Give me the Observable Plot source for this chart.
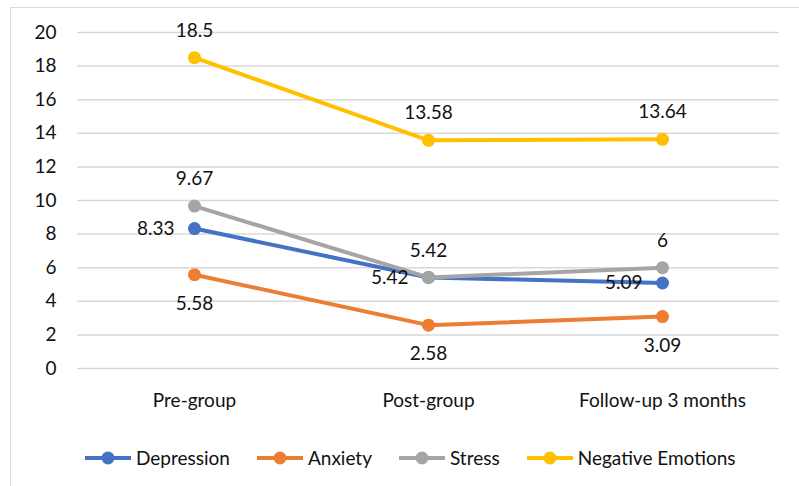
<!DOCTYPE html>
<html>
<head>
<meta charset="utf-8">
<script src="https://cdn.jsdelivr.net/npm/d3@7"></script>
<script src="https://cdn.jsdelivr.net/npm/@observablehq/plot@0.6"></script>
<style>
  html, body { margin: 0; padding: 0; background: #fff; width: 799px; height: 486px; overflow: hidden; }
  #frame { position: absolute; left: 10px; top: 7px; width: 820px; height: 520px; border: 1px solid #d9d9d9; box-sizing: border-box; }
  #chart { position: absolute; left: 0; top: 0; }
  #legend { position: absolute; left: 84px; top: 446px; display: flex; align-items: center; font-family: Lato, sans-serif; font-size: 19px; color: #111; }
  .item { display: flex; align-items: center; margin-right: 26px; }
  .item svg { margin-right: 4px; }
</style>
</head>
<body>
<div id="frame"></div>
<div id="chart"></div>
<div id="legend"></div>
<script>
const categories = ["Pre-group", "Post-group", "Follow-up 3 months"];
const seriesNames = ["Depression", "Anxiety", "Stress", "Negative Emotions"];
const depression = [8.33, 5.42, 5.09];
const anxiety = [5.58, 2.58, 3.09];
const stress = [9.67, 5.42, 6];
const negativeEmotions = [18.5, 13.58, 13.64];
const colors = ["#4472C4", "#ED7D31", "#A5A5A5", "#FFC000"];
const yTicks = [0, 2, 4, 6, 8, 10, 12, 14, 16, 18, 20];

const seriesValues = [depression, anxiety, stress, negativeEmotions];
const rows = [];
seriesNames.forEach((s, si) => {
  categories.forEach((c, ci) => rows.push({series: s, category: c, value: seriesValues[si][ci]}));
});
const above = rows.filter(d => d.series === "Stress" || d.series === "Negative Emotions");
const left = rows.filter(d => d.series === "Depression");
const below = rows.filter(d => d.series === "Anxiety");

const font = "Lato, sans-serif";
const fs = 19;
const chart = Plot.plot({
  width: 799,
  height: 420,
  marginTop: 32,
  marginBottom: 52,
  marginLeft: 77,
  marginRight: 20,
  style: {fontFamily: font, fontSize: fs + "px", color: "#111", background: "transparent"},
  x: {type: "point", domain: categories, padding: 0.5, label: null},
  y: {domain: [0, 20], label: null},
  color: {domain: seriesNames, range: colors},
  marks: [
    Plot.gridY(yTicks, {stroke: "#d9d9d9", strokeOpacity: 1, strokeWidth: 1.5}),
    Plot.axisY(yTicks, {tickSize: 0, tickPadding: 21, label: null, fontSize: fs}),
    Plot.axisX({tickSize: 0, tickPadding: 25, label: null, fontSize: fs}),
    Plot.line(rows, {x: "category", y: "value", z: "series", stroke: "series", strokeWidth: 4, strokeLinecap: "round"}),
    Plot.dot(rows, {x: "category", y: "value", fill: "series", r: 6.5}),
    Plot.text(above, {x: "category", y: "value", text: d => String(d.value), dy: -27, fill: "#111", fontSize: fs}),
    Plot.text(left, {x: "category", y: "value", text: d => String(d.value), dx: -20, textAnchor: "end", fill: "#111", fontSize: fs}),
    Plot.text(below, {x: "category", y: "value", text: d => String(d.value), dy: 29, fill: "#111", fontSize: fs})
  ]
});
document.getElementById("chart").appendChild(chart);

const legend = document.getElementById("legend");
seriesNames.forEach((s, i) => {
  const item = document.createElement("div");
  item.className = "item";
  item.innerHTML = `<svg width="48" height="14"><line x1="1" y1="7" x2="47" y2="7" stroke="${colors[i]}" stroke-width="4"/><circle cx="24" cy="7" r="6.5" fill="${colors[i]}"/></svg><span>${s}</span>`;
  legend.appendChild(item);
});
</script>
</body>
</html>
